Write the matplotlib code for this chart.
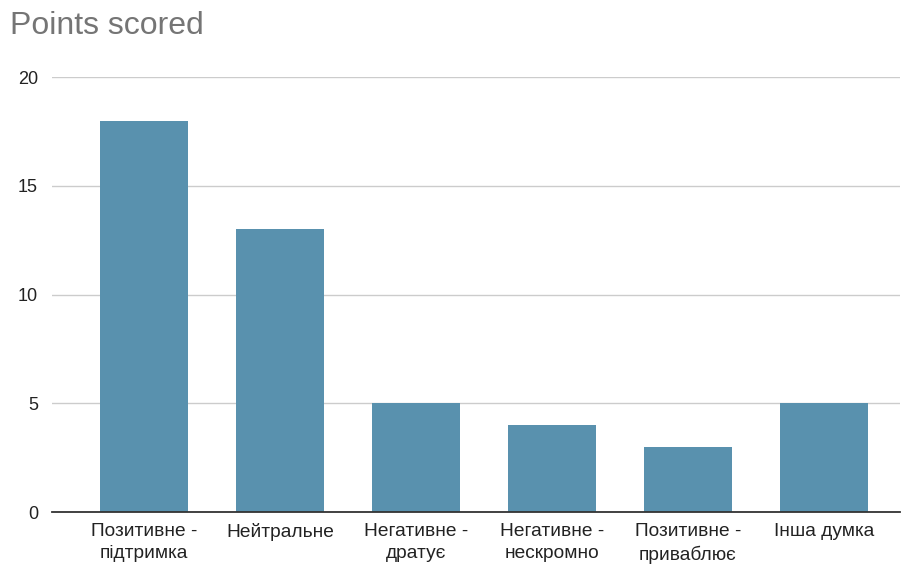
import numpy as np
from matplotlib import pyplot as plt

categories = ["Позитивне -\nпідтримка", "Нейтральне", "Негативне -\nдратує",
              "Негативне -\nнескромно", "Позитивне -\nприваблює", "Інша думка"]
points = [18, 13, 5, 4, 3, 5]
y_ticks = [0, 5, 10, 15, 20]

plt.rcParams['font.family'] = ['Liberation Sans', 'DejaVu Sans']

fig = plt.figure(figsize=(9.06, 5.67), dpi=100)
ax = fig.add_axes([0.0574, 0.097, 0.936, 0.767])

x = np.arange(len(categories))
ax.bar(x, points, width=0.65, color="#5991ae", zorder=3)

ax.set_ylim(0, 20)
ax.set_xlim(-0.676, 5.56)
ax.set_yticks(y_ticks)
ax.set_xticks(x)
ax.set_xticklabels(categories, fontsize=13.8, color="#222222", linespacing=1.4)
ax.tick_params(axis="y", labelsize=13, length=0, pad=10, labelcolor="#222222")
ax.tick_params(axis="x", length=0, pad=8)
ax.grid(axis="y", color="#cccccc", linewidth=1, zorder=0)
for s in ["top", "right", "left"]:
    ax.spines[s].set_visible(False)
ax.spines["bottom"].set_color("#333333")
ax.spines["bottom"].set_linewidth(1.3)
ax.spines["bottom"].set_zorder(4)

fig.text(0.011, 1 - 11 / 567, "Points scored", fontsize=23, color="#757575",
         ha="left", va="top")

fig.savefig("out.png", dpi=100)
